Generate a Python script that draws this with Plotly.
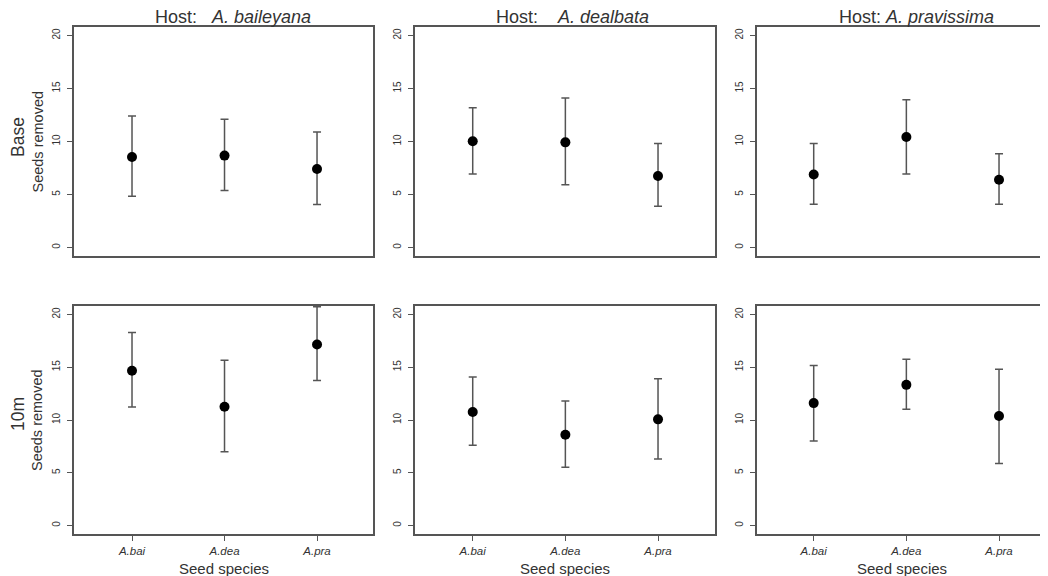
import plotly.graph_objects as go

# ---- data ----
seed_species = ["A.bai", "A.dea", "A.pra"]
hosts = ["A. baileyana", "A. dealbata", "A. pravissima"]
positions = ["Base", "10m"]

# Base row: one list per host, values per seed species
base_mean = [[8.54, 8.67, 7.41], [10.02, 9.92, 6.75], [6.88, 10.42, 6.40]]
base_upper = [[12.40, 12.09, 10.89], [13.19, 14.10, 9.80], [9.80, 13.94, 8.85]]
base_lower = [[4.83, 5.37, 4.05], [6.94, 5.93, 3.89], [4.08, 6.94, 4.08]]

# 10m row
m10_mean = [[14.67, 11.26, 17.16], [10.76, 8.61, 10.06], [11.60, 13.33, 10.38]]
m10_upper = [[18.30, 15.65, 20.72], [14.07, 11.80, 13.91], [15.16, 15.75, 14.81]]
m10_lower = [[11.23, 7.00, 13.75], [7.60, 5.52, 6.31], [8.02, 11.01, 5.88]]

y_ticks = [0, 5, 10, 15, 20]

# ---- layout geometry (pixels in the 1048x576 window) ----
OFF = 8                    # default page margin around the plot div
W, H = 1048 - OFF, 576 - OFF
FONT = "Liberation Sans, Arial, Helvetica, sans-serif"
LINE = "#555555"
TEXT = "#333333"

col_px = [(74, 373), (415, 715), (757, 1046)]
row_px = [(27, 256), (306, 534)]
x_ranges = [[-0.627, 2.605], [-0.623, 2.615], [-0.612, 2.507]]


def fx(x):
    return (x - OFF) / W


def fy(y):
    return 1 - (y - OFF) / H


fig = go.Figure()
layout = dict(
    width=W, height=H,
    margin=dict(l=0, r=0, t=0, b=0),
    paper_bgcolor="white", plot_bgcolor="white",
    showlegend=False,
    font=dict(family=FONT, color=TEXT),
)
annotations = []

rows = [(base_mean, base_upper, base_lower), (m10_mean, m10_upper, m10_lower)]

idx = 0
for r, (means, ups, lows) in enumerate(rows):
    y0, y1 = row_px[r]
    for c in range(3):
        idx += 1
        xa = "x" if idx == 1 else f"x{idx}"
        ya = "y" if idx == 1 else f"y{idx}"
        m = means[c]
        u = ups[c]
        lo = lows[c]
        fig.add_trace(go.Scatter(
            x=seed_species, y=m, xaxis=xa, yaxis=ya,
            mode="markers",
            marker=dict(color="black", size=10, symbol="circle"),
            error_y=dict(
                type="data", symmetric=False,
                array=[uu - mm for uu, mm in zip(u, m)],
                arrayminus=[mm - ll for mm, ll in zip(m, lo)],
                color=LINE, thickness=1.5, width=4,
            ),
            hoverinfo="skip",
        ))
        x0, x1 = col_px[c]
        xkey = "xaxis" if idx == 1 else f"xaxis{idx}"
        ykey = "yaxis" if idx == 1 else f"yaxis{idx}"
        layout[xkey] = dict(
            domain=[fx(x0), fx(x1)],
            anchor=ya,
            type="category",
            categoryorder="array", categoryarray=seed_species,
            range=x_ranges[c],
            showline=True, mirror=True, linecolor=LINE, linewidth=1.5,
            showgrid=False, zeroline=False,
            ticks="outside" if r == 1 else "",
            ticklen=5, tickcolor=LINE, tickwidth=1,
            showticklabels=(r == 1),
            tickvals=seed_species,
            ticktext=[f"<i>{s}</i>" for s in seed_species],
            tickfont=dict(size=11.5, family=FONT, color=TEXT),
            fixedrange=True,
        )
        layout[ykey] = dict(
            domain=[fy(y1), fy(y0)],
            anchor=xa,
            range=[-0.8, 20.8],
            showline=True, mirror=True, linecolor=LINE, linewidth=1.5,
            showgrid=False, zeroline=False,
            ticks="outside", ticklen=5, tickcolor=LINE, tickwidth=1,
            tickvals=y_ticks, ticktext=[str(v) for v in y_ticks],
            tickangle=-90,
            ticklabelstandoff=3,
            tickfont=dict(size=10, family=FONT, color=TEXT),
            fixedrange=True,
        )
        if r == 1:
            annotations.append(dict(
                x=fx((x0 + x1) / 2), y=fy(568),
                xref="paper", yref="paper",
                text="Seed species", showarrow=False,
                font=dict(size=15, family=FONT, color=TEXT),
                xanchor="center", yanchor="middle",
            ))
    # y axis title for the row
    annotations.append(dict(
        x=fx(37), y=fy((y0 + y1) / 2),
        xref="paper", yref="paper",
        text="Seeds removed", textangle=-90, showarrow=False,
        font=dict(size=14.5, family=FONT, color=TEXT),
        xanchor="center", yanchor="middle",
    ))

# column titles
title_x = [233, 572, 916]
title_text = [
    "Host:\u00a0\u00a0\u00a0<i>" + hosts[0] + "</i>",
    "Host:\u00a0\u00a0\u00a0\u00a0<i>" + hosts[1] + "</i>",
    "Host:\u00a0<i>" + hosts[2] + "</i>",
]
for c in range(3):
    annotations.append(dict(
        x=fx(title_x[c]), y=fy(17),
        xref="paper", yref="paper",
        text=title_text[c], showarrow=False,
        font=dict(size=18, family=FONT, color=TEXT),
        xanchor="center", yanchor="middle",
    ))

# row labels
row_label_y = [137, 414]
for r in range(2):
    annotations.append(dict(
        x=fx(18), y=fy(row_label_y[r]),
        xref="paper", yref="paper",
        text=positions[r], textangle=-90, showarrow=False,
        font=dict(size=17.5, family=FONT, color=TEXT),
        xanchor="center", yanchor="middle",
    ))

layout["annotations"] = annotations
fig.update_layout(**layout)
fig.write_html("out.html")
